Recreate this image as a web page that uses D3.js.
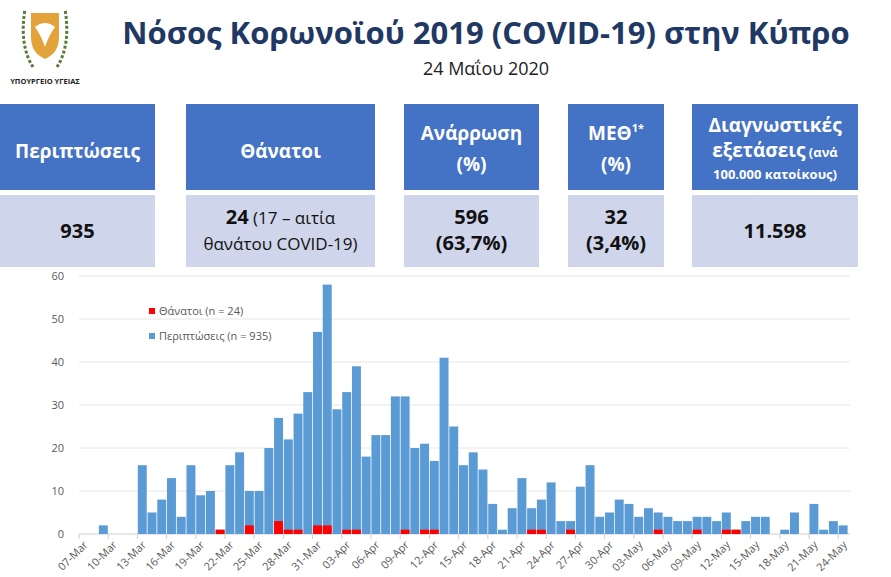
<!DOCTYPE html>
<meta charset="utf-8">
<style>
  body { margin: 0; background: #fff; font-family: "Open Sans", "Noto Sans", sans-serif; }
</style>
<script src="https://cdn.jsdelivr.net/npm/d3@7"></script>
<svg id="chart" width="891" height="577"></svg>
<script>
// daily values 07-Mar .. 24-May
var cases = [0,0,2,0,0,0,16,5,8,13,4,16,9,10,1,16,19,10,10,20,27,22,28,33,47,
  58,29,33,39,18,23,23,32,32,20,21,17,41,25,16,19,15,7,1,6,13,6,8,12,3,3,11,16,4,5,
  8,7,4,6,5,4,3,3,4,4,3,5,1,3,4,4,0,1,5,0,7,1,3,2];
var deaths = [0,0,0,0,0,0,0,0,0,0,0,0,0,0,1,0,0,2,0,0,3,1,1,0,2,
  2,0,1,1,0,0,0,0,1,0,1,1,0,0,0,0,0,0,0,0,0,1,1,0,0,1,0,0,0,0,
  0,0,0,0,1,0,0,0,1,0,0,1,1,0,0,0,0,0,0,0,0,0,0,0];
var yTicks = [0,10,20,30,40,50,60];

var start = new Date(2020, 2, 7);
var days = cases.map(function (c, i) { return d3.timeDay.offset(start, i); });
var fmt = d3.timeFormat("%d-%b");

var svg = d3.select("#chart");

// logo
var logo = svg.append("g").attr("transform", "translate(45,35)");
logo.append("path").attr("d", "M-14,-22 L14,-22 L14,2 Q14,18 0,24 Q-14,18 -14,2 Z").attr("fill", "#e3a33a");
logo.append("path").attr("d", "M-10,-8 Q0,-16 10,-8 Q4,0 0,12 Q-4,0 -10,-8 Z").attr("fill", "#fff");
[-1, 1].forEach(function (s) {
  logo.append("path").attr("d", "M" + (s * 12) + ",32 Q" + (s * 26) + ",10 " + (s * 20) + ",-26")
    .attr("fill", "none").attr("stroke", "#5c7a3a").attr("stroke-width", 3).attr("stroke-dasharray", "3,2");
});
svg.append("text").attr("x", 45).attr("y", 84).attr("text-anchor", "middle")
  .attr("font-size", 7.5).attr("font-weight", "bold").attr("fill", "#222").text("ΥΠΟΥΡΓΕΙΟ ΥΓΕΙΑΣ");

svg.append("text").attr("x", 486).attr("y", 44).attr("text-anchor", "middle")
  .attr("font-size", 31).attr("font-weight", "bold").attr("fill", "#1f3864")
  .text("Νόσος Κορωνοϊού 2019 (COVID-19) στην Κύπρο");
svg.append("text").attr("x", 486).attr("y", 75).attr("text-anchor", "middle")
  .attr("font-size", 18).attr("fill", "#222").text("24 Μαΐου 2020");

// boxes
var cols = [[0, 155], [186, 375], [404, 539], [568, 664], [692, 858]];
cols.forEach(function (c, i) {
  svg.append("rect").attr("x", c[0]).attr("y", 104).attr("width", c[1] - c[0]).attr("height", 86).attr("fill", "#4472c4");
  svg.append("rect").attr("x", c[0]).attr("y", 195).attr("width", c[1] - c[0]).attr("height", 72).attr("fill", "#cfd5ea");
});
function txt(x, y, s, size, weight, fill) {
  return svg.append("text").attr("x", x).attr("y", y).attr("text-anchor", "middle")
    .attr("font-size", size).attr("font-weight", weight).attr("fill", fill).text(s);
}
var mid = cols.map(function (c) { return (c[0] + c[1]) / 2; });
txt(mid[0], 158, "Περιπτώσεις", 19, "bold", "#fff");
txt(mid[1], 158, "Θάνατοι", 19, "bold", "#fff");
txt(mid[2], 140, "Ανάρρωση", 19, "bold", "#fff");
txt(mid[2], 171, "(%)", 19, "bold", "#fff");
var me = txt(mid[3], 140, "ΜΕΘ", 19, "bold", "#fff");
me.append("tspan").attr("font-size", 11).attr("dy", -8).text("1*");
txt(mid[3], 171, "(%)", 19, "bold", "#fff");
txt(mid[4], 132, "Διαγνωστικές", 19, "bold", "#fff");
var ex = txt(mid[4], 157, "εξετάσεις", 19, "bold", "#fff");
ex.append("tspan").attr("font-size", 13).text(" (ανά");
txt(mid[4], 179, "100.000 κατοίκους)", 13, "bold", "#fff");

txt(mid[0], 238, "935", 20, "bold", "#111");
var d1 = txt(mid[1], 224, "24", 20, "bold", "#111");
d1.append("tspan").attr("font-weight", "normal").attr("font-size", 17).text(" (17 – αιτία");
txt(mid[1], 250, "θανάτου COVID-19)", 17, "normal", "#111");
txt(mid[2], 224, "596", 20, "bold", "#111");
txt(mid[2], 250, "(63,7%)", 20, "bold", "#111");
txt(mid[3], 224, "32", 20, "bold", "#111");
txt(mid[3], 250, "(3,4%)", 20, "bold", "#111");
txt(mid[4], 238, "11.598", 20, "bold", "#111");

// chart
var x = d3.scaleBand().domain(d3.range(cases.length)).range([79, 848]).paddingInner(0.08).paddingOuter(0.04);
var step = x.step();
var y = d3.scaleLinear().domain([0, 60]).range([534, 276]);

var g = svg.append("g");
g.selectAll(".grid").data(yTicks).enter().append("line")
  .attr("x1", 79).attr("x2", 850).attr("y1", y).attr("y2", y)
  .attr("stroke", function (d) { return d === 0 ? "#d0d0d0" : "#e6e6e6"; }).attr("stroke-width", 1);
g.selectAll(".yl").data(yTicks).enter().append("text")
  .attr("x", 64).attr("y", function (d) { return y(d) + 4; }).attr("text-anchor", "end")
  .attr("font-size", 11).attr("fill", "#595959").text(function (d) { return d; });

g.selectAll(".c").data(cases).enter().append("rect")
  .attr("x", function (d, i) { return x(i); }).attr("width", x.bandwidth())
  .attr("y", function (d) { return y(d); }).attr("height", function (d) { return y(0) - y(d); })
  .attr("fill", "#5b9bd5");
g.selectAll(".d").data(deaths).enter().append("rect")
  .attr("x", function (d, i) { return x(i); }).attr("width", x.bandwidth())
  .attr("y", function (d) { return y(d); }).attr("height", function (d) { return y(0) - y(d); })
  .attr("fill", "#ff0000");

var tickIdx = d3.range(0, cases.length, 3);
tickIdx.forEach(function (i) {
  var tx = 79 + i * step;
  g.append("line").attr("x1", tx).attr("x2", tx).attr("y1", 534).attr("y2", 539).attr("stroke", "#d0d0d0");
  g.append("text").attr("transform", "translate(" + (tx + 4) + ",540) rotate(-45)")
    .attr("text-anchor", "end").attr("dy", "0.7em").attr("font-size", 11).attr("fill", "#595959")
    .text(fmt(days[i]));
});

// legend
var leg = [["#ff0000", "Θάνατοι (n = 24)", 312], ["#5b9bd5", "Περιπτώσεις (n = 935)", 337]];
leg.forEach(function (l) {
  g.append("rect").attr("x", 149).attr("y", l[2] - 4).attr("width", 6).attr("height", 6).attr("fill", l[0]);
  g.append("text").attr("x", 159).attr("y", l[2] + 3).attr("font-size", 11).attr("fill", "#595959").text(l[1]);
});
</script>
